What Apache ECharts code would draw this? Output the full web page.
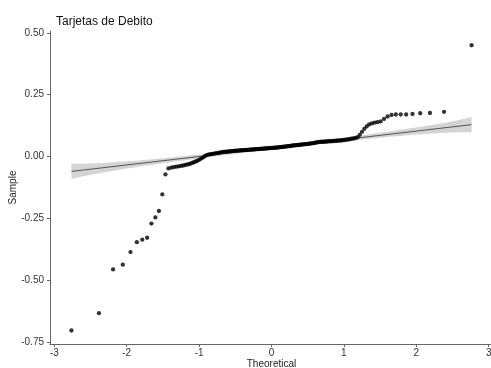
<!DOCTYPE html>
<html>
<head>
<meta charset="utf-8">
<script src="https://cdn.jsdelivr.net/npm/echarts@6/dist/echarts.min.js"></script>
<style>
  html, body { margin: 0; padding: 0; background: #fff; }
  #chart { width: 491px; height: 368px; }
</style>
</head>
<body>
<div id="chart"></div>
<script>
// Normal Q-Q plot: theoretical quantiles vs. sorted sample values
const chartTitle = 'Tarjetas de Debito';
const xName = 'Theoretical';
const yName = 'Sample';

const theoretical = [
  -2.764,-2.384,-2.189,-2.054,-1.948,-1.860,-1.785,-1.718,-1.659,-1.604,
  -1.555,-1.508,-1.465,-1.424,-1.386,-1.349,-1.315,-1.282,-1.250,-1.219,
  -1.190,-1.161,-1.133,-1.106,-1.080,-1.055,-1.030,-1.006,-0.983,-0.960,
  -0.937,-0.915,-0.894,-0.873,-0.852,-0.832,-0.812,-0.792,-0.772,-0.753,
  -0.734,-0.715,-0.697,-0.679,-0.661,-0.643,-0.626,-0.608,-0.591,-0.574,
  -0.557,-0.541,-0.524,-0.508,-0.492,-0.476,-0.460,-0.444,-0.428,-0.412,
  -0.397,-0.381,-0.366,-0.351,-0.336,-0.321,-0.305,-0.290,-0.276,-0.261,
  -0.246,-0.231,-0.217,-0.202,-0.187,-0.173,-0.158,-0.144,-0.130,-0.115,
  -0.100,-0.086,-0.072,-0.057,-0.043,-0.029,-0.014,0,
  0.014,0.029,0.043,0.057,0.072,0.086,0.100,
  0.115,0.130,0.144,0.158,0.173,0.187,0.202,0.217,0.231,0.246,
  0.261,0.276,0.290,0.305,0.321,0.336,0.351,0.366,0.381,0.397,
  0.412,0.428,0.444,0.460,0.476,0.492,0.508,0.524,0.541,0.557,
  0.574,0.591,0.608,0.626,0.643,0.661,0.679,0.697,0.715,0.734,
  0.753,0.772,0.792,0.812,0.832,0.852,0.873,0.894,0.915,0.937,
  0.960,0.983,1.006,1.030,1.055,1.080,1.106,1.133,1.161,1.190,
  1.219,1.250,1.282,1.315,1.349,1.386,1.424,1.465,1.508,1.555,
  1.604,1.659,1.718,1.785,1.860,1.948,2.054,2.189,2.384,2.764
];

const sample = [
  -0.703,-0.633,-0.456,-0.437,-0.386,-0.346,-0.336,-0.328,-0.271,-0.246,
  -0.220,-0.153,-0.072,-0.048,-0.045,-0.043,-0.041,-0.040,-0.038,-0.036,
  -0.034,-0.032,-0.030,-0.027,-0.024,-0.021,-0.018,-0.014,-0.010,-0.006,
  -0.002,0.003,0.006,0.008,0.009,0.010,0.011,0.012,0.013,0.014,
  0.015,0.016,0.017,0.018,0.019,0.019,0.020,0.020,0.021,0.021,
  0.022,0.022,0.023,0.023,0.024,0.024,0.024,0.025,0.025,0.025,
  0.026,0.026,0.026,0.027,0.027,0.027,0.028,0.028,0.028,0.029,
  0.029,0.029,0.030,0.030,0.030,0.031,0.031,0.031,0.032,0.032,
  0.032,0.033,0.033,0.033,0.034,0.034,0.034,0.035,
  0.035,0.035,0.036,0.036,0.036,0.037,0.037,
  0.038,0.038,0.039,0.039,0.040,0.040,0.041,0.041,0.042,0.042,
  0.043,0.044,0.044,0.045,0.045,0.046,0.046,0.047,0.047,0.048,
  0.048,0.049,0.049,0.050,0.050,0.051,0.051,0.052,0.053,0.053,
  0.054,0.055,0.056,0.057,0.058,0.059,0.059,0.060,0.060,0.060,
  0.061,0.061,0.062,0.062,0.062,0.063,0.063,0.064,0.064,0.065,
  0.065,0.066,0.067,0.068,0.069,0.070,0.072,0.073,0.075,0.078,
  0.088,0.100,0.112,0.122,0.130,0.134,0.137,0.139,0.142,0.152,
  0.162,0.168,0.170,0.170,0.170,0.172,0.175,0.176,0.181,0.450
];

// Reference line endpoints
const refLineX = [-2.764, 2.764];
const refLineY = [-0.060, 0.129];

// Confidence band around the reference line
const bandX    = [-2.764,-2.6,-2.4,-2.0,-1.6,-1.3,-1.0,-0.5,0,0.5,1.0,1.3,1.6,2.0,2.4,2.6,2.764];
const bandLow  = [-0.091,-0.080,-0.068,-0.048,-0.031,-0.019,-0.008,0.011,0.028,0.045,0.061,0.070,0.079,0.089,0.096,0.098,0.098];
const bandHigh = [-0.029,-0.029,-0.027,-0.020,-0.010,-0.001,0.008,0.024,0.041,0.058,0.077,0.088,0.100,0.117,0.137,0.149,0.160];

const xTicks = [-3, -2, -1, 0, 1, 2, 3];
const yTicks = [-0.75, -0.50, -0.25, 0.00, 0.25, 0.50];

const FONT = '"Liberation Sans", Arial, sans-serif';

const chart = echarts.init(document.getElementById('chart'), null, { renderer: 'canvas' });

const axisCommon = {
  type: 'value',
  splitLine: { show: false },
  nameMoveOverlap: false,
  axisLine: { show: true, onZero: false, lineStyle: { color: '#666', width: 1 } },
  axisTick: { show: true, length: 3, lineStyle: { color: '#666', width: 1 } },
  nameTextStyle: { color: '#222', fontSize: 10, fontFamily: FONT }
};

chart.setOption({
  animation: false,
  title: {
    text: chartTitle,
    left: 51,
    top: 11,
    textStyle: { fontSize: 12, fontWeight: 'normal', color: '#111', fontFamily: FONT }
  },
  grid: { left: 50, top: 31, width: 443, height: 313, containLabel: false, outerBoundsMode: 'none' },
  xAxis: Object.assign({}, axisCommon, {
    min: -3.06, max: 3.06,
    name: xName, nameLocation: 'middle', nameGap: 15,
    axisTick: Object.assign({}, axisCommon.axisTick, { customValues: xTicks }),
    axisLabel: { customValues: xTicks, margin: 4, color: '#333', fontSize: 10, fontFamily: FONT,
                 formatter: v => String(v) }
  }),
  yAxis: Object.assign({}, axisCommon, {
    min: -0.7575, max: 0.5075,
    name: yName, nameLocation: 'middle', nameGap: 32, nameRotate: 90,
    axisTick: Object.assign({}, axisCommon.axisTick, { customValues: yTicks }),
    axisLabel: { customValues: yTicks, margin: 6, color: '#333', fontSize: 10, fontFamily: FONT,
                 formatter: v => v.toFixed(2) }
  }),
  series: [
    {
      // shaded confidence band drawn as one polygon
      type: 'custom',
      silent: true,
      z: 1,
      data: [[bandX[0], bandLow[0]]],
      renderItem: function (params, api) {
        const pts = [];
        for (let i = 0; i < bandX.length; i++) pts.push(api.coord([bandX[i], bandHigh[i]]));
        for (let i = bandX.length - 1; i >= 0; i--) pts.push(api.coord([bandX[i], bandLow[i]]));
        return {
          type: 'polygon',
          shape: { points: pts },
          style: { fill: 'rgba(160,160,160,0.45)', stroke: null }
        };
      }
    },
    {
      type: 'line',
      silent: true,
      z: 2,
      symbol: 'none',
      lineStyle: { color: '#333', width: 0.8 },
      data: refLineX.map((x, i) => [x, refLineY[i]])
    },
    {
      type: 'scatter',
      silent: true,
      z: 3,
      symbol: 'circle',
      symbolSize: 4.3,
      itemStyle: { color: '#000' },
      data: theoretical.map((x, i) => [x, sample[i]])
    }
  ]
});
</script>
</body>
</html>
